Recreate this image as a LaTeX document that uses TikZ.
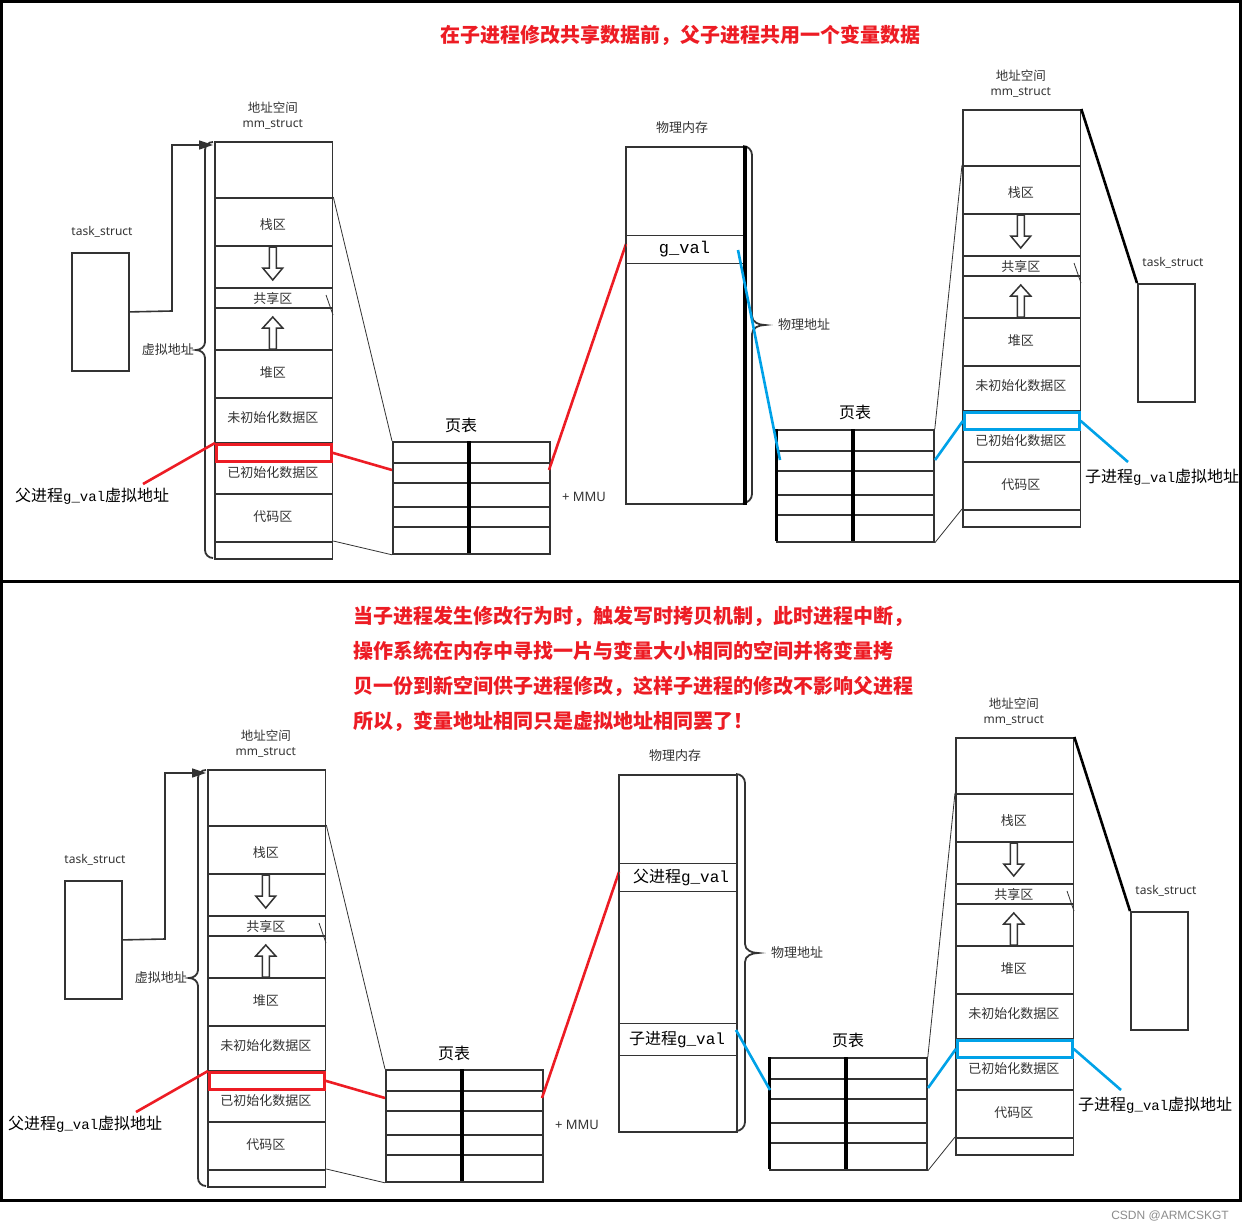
\documentclass[tikz,border=0pt]{standalone}
\usepackage{fontspec}
\setmainfont{Noto Sans CJK SC}
\newfontfamily\cjk{Noto Sans CJK SC}
\newfontfamily\monof{Liberation Mono}
\newfontfamily\sansf{Noto Sans}
\newfontfamily\arialf{Liberation Sans}
\usetikzlibrary{arrows.meta}
\definecolor{lc}{HTML}{333333}
\definecolor{rd}{RGB}{237,28,36}
\definecolor{bl}{RGB}{0,162,232}
\tikzset{
  cell/.style={draw=lc, line width=1.8pt, minimum width=117.5pt, inner sep=0pt, anchor=north west},
  box/.style={draw=lc, line width=1.8pt, inner sep=0pt, anchor=north west},
  hl/.style={draw=#1, line width=2.6pt, minimum width=115pt, minimum height=17pt, inner sep=0pt, anchor=north west},
  lbl/.style={text=lc, inner sep=0pt, font=\cjk\fontsize{13}{15}\selectfont},
  slbl/.style={text=lc, inner sep=0pt, font=\sansf\fontsize{12}{14}\selectfont},
  glbl/.style={text=black, inner sep=0pt, font=\cjk\fontsize{16}{18}\selectfont},
  gvtext/.style={text=black, inner sep=0pt, font=\monof\fontsize{16}{18}\selectfont},
  title/.style={text=rd, inner sep=0pt, anchor=west, font=\cjk\bfseries\fontsize{20}{24}\selectfont},
  conn/.style={draw=lc, line width=0.8pt},
  brc/.style={draw=lc, line width=1.8pt},
  harrow/.style={draw=lc, line width=1.5pt, fill=white, line join=miter},
  rline/.style={draw=rd, line width=2.6pt},
  bline/.style={draw=bl, line width=2.6pt},
}
\newcommand\memcol[4]{%
  \begin{scope}[shift={(#2,#3)}]
    \node[cell, minimum height=56pt] (#1r0) at (0,0) {};
    \node[cell, minimum height=48pt] (#1r1) at (0,56) {};
    \node[cell, minimum height=42pt] (#1r2) at (0,104) {};
    \node[cell, minimum height=20pt] (#1r3) at (0,146) {};
    \node[cell, minimum height=42pt] (#1r4) at (0,166) {};
    \node[cell, minimum height=48pt] (#1r5) at (0,208) {};
    \node[cell, minimum height=45pt] (#1r6) at (0,256) {};
    \node[cell, minimum height=51pt] (#1r7) at (0,301) {};
    \node[cell, minimum height=48pt] (#1r8) at (0,352) {};
    \node[cell, minimum height=17pt] (#1r9) at (0,400) {};
    \node[lbl] (#1t1) at (58.75,84) {栈区};
    \node[lbl] (#1t3) at (58.75,158) {共享区};
    \node[lbl] (#1t5) at (58.75,232) {堆区};
    \node[lbl] (#1t6) at (58.75,277) {未初始化数据区};
    \node[lbl] (#1t7) at (58.75,332) {已初始化数据区};
    \node[lbl] (#1t8) at (58.75,376) {代码区};
    \draw[harrow] (55.25,106) -- (62.25,106) -- (62.25,127) -- (68.75,127) -- (58.75,139) -- (48.75,127) -- (55.25,127) -- cycle;
    \draw[harrow] (58.75,176) -- (68.75,187) -- (62.25,187) -- (62.25,208) -- (55.25,208) -- (55.25,187) -- (48.75,187) -- cycle;
    \draw[conn] (112,154) -- (119,174);
    \node[hl=#4] (#1hl) at (1,302) {};
    \node[lbl, font=\cjk\fontsize{12.5}{14}\selectfont] (#1h1) at (58.75,-33) {地址空间};
    \node[slbl] (#1h2) at (58.75,-17) {mm\_struct};
  \end{scope}}
\newcommand\pagetab[4]{%
  \node[box, minimum width=157pt, minimum height=112pt] (#1) at (#2,#3) {};
  \begin{scope}[shift={(#2,#3)}]
    \foreach \yy in {22,42,66,86} \draw[lc, line width=1.8pt] (0,\yy) -- (157,\yy);
    \draw[black, line width=3.5pt] (77,0) -- (77,112);
    \ifnum#4=1 \draw[black, line width=3pt] (0,0) -- (0,112);\fi
  \end{scope}}
\newcommand\drawpanel[1]{%
  % left task_struct
  \node[box, minimum width=57pt, minimum height=118pt] (#1task1) at (71,252) {};
  \node[slbl] (#1task1t) at (102,232) {task\_struct};
  % left address space
  \memcol{#1L}{214}{141}{rd}
  \coordinate (#1in) at (213,145);
  \coordinate (#1k1) at (172,311);
  \coordinate (#1k2) at (172,145);
  \draw[lc, line width=1.6pt, -{Triangle[length=14pt,width=9pt]}] (#1task1.east) -- (#1k1) -- (#1k2) -- (#1in);
  \draw[brc] (213,142) to[out=180,in=90] (205,150) -- (205,342) to[out=-90,in=0] (196,350) to[out=0,in=90] (205,358) -- (205,550) to[out=-90,in=180] (213,558);
  \node[lbl, anchor=east] (#1va) at (194,350) {虚拟地址};
  % page table 1
  \pagetab{#1P1}{392}{441}{0}
  \node[lbl, text=black, font=\cjk\fontsize{16}{18}\selectfont] (#1pt1t) at (461,425) {页表};
  \draw[conn] (#1Lr1.north east) -- (#1P1.north west);
  \draw[conn] (#1Lr9.north east) -- (#1P1.south west);
  \node[slbl, font=\sansf\fontsize{13}{15}\selectfont] (#1mmu) at (584,497) {+ MMU};
  % physical memory
  \node[box, minimum width=118pt, minimum height=357pt] (#1phys) at (625,146) {};
  \node[lbl] (#1physt) at (682,128) {物理内存};
  \draw[brc] (743,146) to[out=0,in=90] (752,155) -- (752,316) to[out=-90,in=180] (765,325) to[out=180,in=90] (752,334) -- (752,494) to[out=-90,in=0] (743,503);
  \node[lbl, anchor=west] (#1pa) at (778,325) {物理地址};
  % page table 2
  \pagetab{#1P2}{776}{429}{1}
  \node[lbl, text=black, font=\cjk\fontsize{16}{18}\selectfont] (#1pt2t) at (855,412) {页表};
  % right address space
  \memcol{#1R}{962}{109}{bl}
  \draw[conn] (#1P2.north east) -- (#1Rr1.north west);
  \draw[conn] (#1P2.south east) -- (#1Rr9.north west);
  % right task_struct
  \node[box, minimum width=57pt, minimum height=118pt] (#1task2) at (1137,283) {};
  \node[slbl] (#1task2t) at (1173,263) {task\_struct};
  \draw[black, line width=2.6pt] (#1Rr0.north east) -- (#1task2.north west);
  % red: parent virtual address
  \node[glbl, anchor=west] (#1plab) at (15,496) {父进程{\monof\fontsize{14}{16}\selectfont g\_val}虚拟地址};
  \coordinate (#1ra) at (143,484);
  \coordinate (#1rb) at (392,470);
  \coordinate (#1rc) at (549,470);
  \coordinate (#1rd) at (626,244);
  \draw[rline] (#1ra) -- (#1Lhl.north west);
  \draw[rline] (#1Lhl.east) -- (#1rb);
  \draw[rline] (#1rc) -- (#1rd);
  % blue: child virtual address
  \coordinate (#1ba) at (935,460);
  \coordinate (#1bb) at (1128,462);
  \draw[bline] (#1ba) -- (#1Rhl.west);
  \draw[bline] (#1Rhl.east) -- (#1bb);
  \node[glbl, anchor=west] (#1clab) at (1085,477) {子进程{\monof\fontsize{14}{16}\selectfont g\_val}虚拟地址};
}
\begin{document}
\begin{tikzpicture}[x=1pt, y=-1pt]
  \useasboundingbox (0,0) rectangle (1243,1231);
  \fill[white] (0,0) rectangle (1243,1231);
  % frame
  \draw[black, line width=3pt] (1.5,1.5) rectangle (1240.5,1200.5);
  \draw[black, line width=3pt] (0,581) -- (1241,581);
  % top panel
  \node[title] (ttitle) at (440,35) {在子进程修改共享数据前，父子进程共用一个变量数据};
  \begin{scope}
    \drawpanel{t}
    \node[box, draw=lc, line width=0.9pt, minimum width=118pt, minimum height=28pt, gvtext, font=\monof\fontsize{17}{18}\selectfont] (tgv) at (625,235) {g\_val};
    \draw[black, line width=4pt] (tphys.north east) -- (tphys.south east);
    \coordinate (tga) at (738,250);
    \coordinate (tgb) at (780,460);
    \draw[bline] (tga) -- (tgb);
  \end{scope}
  % bottom panel
  \node[title] (bt1) at (353,616) {当子进程发生修改行为时，触发写时拷贝机制，此时进程中断，};
  \node[title] (bt2) at (353,651) {操作系统在内存中寻找一片与变量大小相同的空间并将变量拷};
  \node[title] (bt3) at (353,686) {贝一份到新空间供子进程修改，这样子进程的修改不影响父进程};
  \node[title] (bt4) at (353,721) {所以，变量地址相同只是虚拟地址相同罢了！};
  \begin{scope}[shift={(-7,628)}]
    \drawpanel{b}
    \node[box, draw=lc, line width=0.9pt, minimum width=118pt, minimum height=28pt] (bpv) at (625,235) {};
    \node[glbl] (bpvt) at (688,249) {父进程{\monof g\_val}};
    \node[box, draw=lc, line width=0.9pt, minimum width=118pt, minimum height=32pt] (bcv) at (625,395) {};
    \node[glbl] (bcvt) at (684,412) {子进程{\monof g\_val}};
    \coordinate (bga) at (743,402);
    \coordinate (bgb) at (777,462);
    \draw[bline] (bga) -- (bgb);
  \end{scope}
  % watermark
  \node[anchor=east, inner sep=0pt, text=black!45, font=\arialf\fontsize{12}{14}\selectfont] (wm) at (1229,1216) {CSDN @ARMCSKGT};
\end{tikzpicture}
\end{document}
